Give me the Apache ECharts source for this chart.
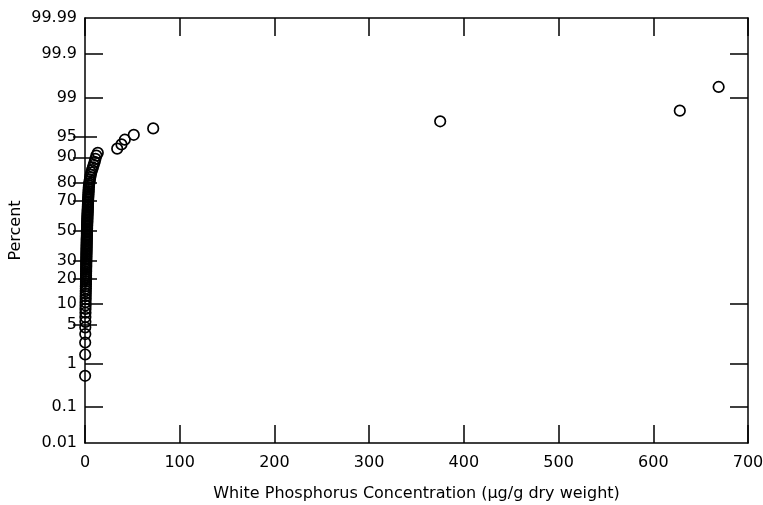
<!DOCTYPE html>
<html>
<head>
<meta charset="utf-8">
<script src="https://cdn.jsdelivr.net/npm/echarts@6/dist/echarts.min.js"></script>
<style>html,body{margin:0;padding:0;background:#fff;}#c{width:763px;height:505px;}</style>
</head>
<body>
<div id="c"></div>
<script>
// ---- data ----
const percentLabels = [0.01, 0.1, 1, 5, 10, 20, 30, 50, 70, 80, 90, 95, 99, 99.9, 99.99];
const majorTicks = [0.1, 1, 10, 99, 99.9];
const minorTicks = [5, 20, 30, 50, 70, 80, 90, 95];
const xTicks = [0, 100, 200, 300, 400, 500, 600, 700];

const concentration = [
  0.1, 0.2, 0.2, 0.3, 0.3, 0.4, 0.4, 0.5, 0.5, 0.6,
  0.6, 0.7, 0.7, 0.8, 0.8, 0.9, 0.9, 1.0, 1.0, 1.0,
  1.1, 1.1, 1.1, 1.2, 1.2, 1.2, 1.3, 1.3, 1.3, 1.4,
  1.4, 1.4, 1.5, 1.5, 1.5, 1.6, 1.6, 1.6, 1.7, 1.7,
  1.7, 1.8, 1.8, 1.8, 1.9, 1.9, 2.0, 2.0, 2.0, 2.1,
  2.1, 2.2, 2.2, 2.3, 2.3, 2.4, 2.4, 2.5, 2.5, 2.6,
  2.6, 2.7, 2.8, 2.8, 2.9, 3.0, 3.0, 3.1, 3.2, 3.3,
  3.3, 3.4, 3.5, 3.6, 3.7, 3.8, 3.9, 4.0, 4.2, 4.5,
  4.8, 5.2, 5.6, 6.0, 6.6, 7.4, 8.3, 9.2, 10.2, 11.0,
  12.0, 13.5, 34.0, 38.5, 42.0, 51.5, 72.0, 375.0, 628.0, 669.0
];
const percent = [
  0.55, 1.5, 2.5, 3.5, 4.5, 5.5, 6.5, 7.5, 8.5, 9.5,
  10.5, 11.5, 12.5, 13.5, 14.5, 15.5, 16.5, 17.5, 18.5, 19.5,
  20.5, 21.5, 22.5, 23.5, 24.5, 25.5, 26.5, 27.5, 28.5, 29.5,
  30.5, 31.5, 32.5, 33.5, 34.5, 35.5, 36.5, 37.5, 38.5, 39.5,
  40.5, 41.5, 42.5, 43.5, 44.5, 45.5, 46.5, 47.5, 48.5, 49.5,
  50.5, 51.5, 52.5, 53.5, 54.5, 55.5, 56.5, 57.5, 58.5, 59.5,
  60.5, 61.5, 62.5, 63.5, 64.5, 65.5, 66.5, 67.5, 68.5, 69.5,
  70.5, 71.5, 72.5, 73.5, 74.5, 75.5, 76.5, 77.5, 78.5, 79.5,
  80.5, 81.5, 82.5, 83.5, 84.5, 85.5, 86.5, 87.5, 88.5, 89.5,
  90.5, 91.3, 92.4, 93.4, 94.4, 95.3, 96.3, 97.2, 98.2, 99.4
];

// ---- normal probability scale (inverse normal CDF, Acklam) ----
function probit(p) {
  const a=[-3.969683028665376e+01,2.209460984245205e+02,-2.759285104469687e+02,1.383577518672690e+02,-3.066479806614716e+01,2.506628277459239e+00];
  const b=[-5.447609879822406e+01,1.615858368580409e+02,-1.556989798598866e+02,6.680131188771972e+01,-1.328068155288572e+01];
  const c=[-7.784894002430293e-03,-3.223964580411365e-01,-2.400758277161838e+00,-2.549671348589069e+00,4.374664141464968e+00,2.938163982698783e+00];
  const d=[7.784695709041462e-03,3.224671290700398e-01,2.445134137142996e+00,3.754408661907416e+00];
  const pl=0.02425, ph=1-pl;
  let q, r;
  if (p < pl) {
    q=Math.sqrt(-2*Math.log(p));
    return (((((c[0]*q+c[1])*q+c[2])*q+c[3])*q+c[4])*q+c[5])/((((d[0]*q+d[1])*q+d[2])*q+d[3])*q+1);
  } else if (p <= ph) {
    q=p-0.5; r=q*q;
    return (((((a[0]*r+a[1])*r+a[2])*r+a[3])*r+a[4])*r+a[5])*q/(((((b[0]*r+b[1])*r+b[2])*r+b[3])*r+b[4])*r+1);
  } else {
    q=Math.sqrt(-2*Math.log(1-p));
    return -(((((c[0]*q+c[1])*q+c[2])*q+c[3])*q+c[4])*q+c[5])/((((d[0]*q+d[1])*q+d[2])*q+d[3])*q+1);
  }
}
const z = p => probit(p / 100);
const yMin = z(percentLabels[0]);
const yMax = z(percentLabels[percentLabels.length - 1]);
const labelZ = percentLabels.map(z);
function fmtLabel(v) {
  let best = 0, bd = Infinity;
  labelZ.forEach((lz, i) => { const dd = Math.abs(lz - v); if (dd < bd) { bd = dd; best = i; } });
  return String(percentLabels[best]);
}

const FONT = 'DejaVu Sans';
const FS = 16;
const lineStyle = { color: '#000', width: 1.5 };
const points = concentration.map((x, i) => [x, z(percent[i])]);

const baseY = {
  type: 'value', min: yMin, max: yMax, offset: 0,
  splitLine: { show: false },
  axisLine: { show: true, onZero: false, lineStyle: lineStyle },
};

const chart = echarts.init(document.getElementById('c'), null, { renderer: 'canvas' });
chart.setOption({
  animation: false,
  backgroundColor: '#fff',
  grid: { left: 85, right: 15, top: 18, bottom: 62, containLabel: false, outerBoundsMode: 'none' },
  xAxis: [
    {
      type: 'value', position: 'bottom', min: xTicks[0], max: xTicks[xTicks.length - 1], interval: 100,
      splitLine: { show: false },
      axisLine: { show: true, onZero: false, lineStyle: lineStyle },
      axisTick: { show: true, inside: true, length: 18, lineStyle: { color: '#000', width: 1.5 } },
      axisLabel: { show: true, color: '#000', fontFamily: FONT, fontSize: FS, margin: 12 },
      name: 'White Phosphorus Concentration (µg/g dry weight)',
      nameLocation: 'middle', nameGap: 43, nameMoveOverlap: false,
      nameTextStyle: { color: '#000', fontFamily: FONT, fontSize: FS }
    },
    {
      type: 'value', position: 'top', min: xTicks[0], max: xTicks[xTicks.length - 1], interval: 100,
      splitLine: { show: false },
      axisLine: { show: true, onZero: false, lineStyle: lineStyle },
      axisTick: { show: true, inside: true, length: 18, lineStyle: { color: '#000', width: 1.5 } },
      axisLabel: { show: false }
    }
  ],
  yAxis: [
    Object.assign({}, baseY, {
      position: 'left',
      axisTick: { show: true, inside: true, length: 18, customValues: majorTicks.map(z), lineStyle: { color: '#000', width: 1.5 } },
      axisLabel: { show: true, customValues: labelZ, formatter: fmtLabel, color: '#000', fontFamily: FONT, fontSize: FS, margin: 8 },
      name: 'Percent', nameLocation: 'middle', nameGap: 61, nameRotate: 90, nameMoveOverlap: false,
      nameTextStyle: { color: '#000', fontFamily: FONT, fontSize: FS }
    }),
    Object.assign({}, baseY, {
      position: 'left',
      axisLine: { show: false },
      axisTick: { show: true, inside: true, length: 12, customValues: minorTicks.map(z), lineStyle: { color: '#000', width: 1.5 } },
      axisLabel: { show: false }
    }),
    Object.assign({}, baseY, {
      position: 'right',
      axisTick: { show: true, inside: true, length: 18, customValues: majorTicks.map(z), lineStyle: { color: '#000', width: 1.5 } },
      axisLabel: { show: false }
    }),
    Object.assign({}, baseY, {
      position: 'right',
      axisLine: { show: false },
      axisTick: { show: true, inside: true, length: 12, customValues: minorTicks.map(z), lineStyle: { color: '#000', width: 1.5 } },
      axisLabel: { show: false }
    })
  ],
  series: [{
    type: 'scatter',
    xAxisIndex: 0, yAxisIndex: 0,
    symbol: 'circle', symbolSize: 10.5,
    clip: false,
    itemStyle: { color: 'rgba(255,255,255,0)', borderColor: '#000', borderWidth: 1.7, opacity: 1 },
    data: points
  }]
});
</script>
</body>
</html>
